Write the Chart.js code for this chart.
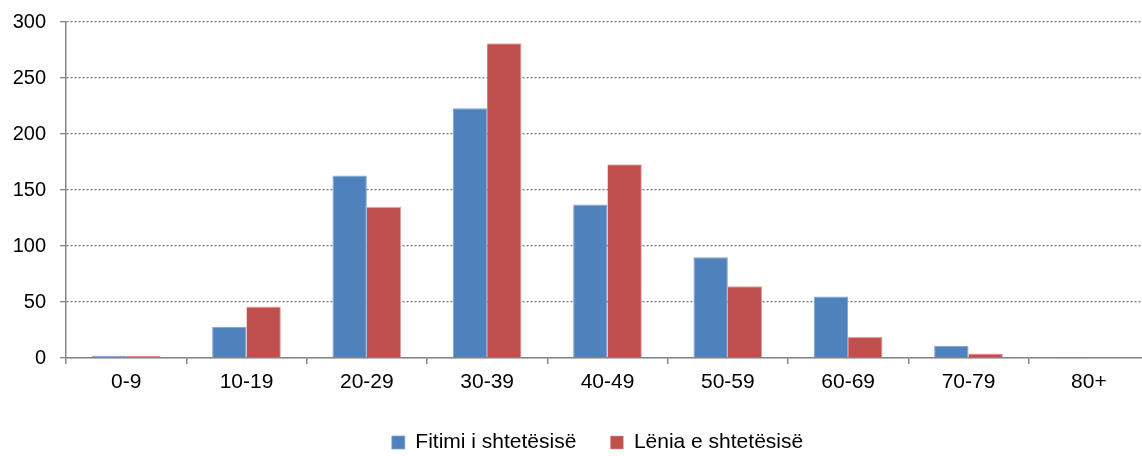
<!DOCTYPE html>
<html>
<head>
<meta charset="utf-8">
<script src="https://cdn.jsdelivr.net/npm/chart.js@4"></script>
<style>
html,body{margin:0;padding:0;overflow:hidden;background:#fff;width:1142px;height:456px;}
#wrap{position:absolute;left:0;top:0;width:1150px;height:463px;}
</style>
</head>
<body>
<div id="wrap"><canvas id="c"></canvas></div>
<script>
const categories = ["0-9","10-19","20-29","30-39","40-49","50-59","60-69","70-79","80+"];
const seriesNames = ["Fitimi i shtetësisë","Lënia e shtetësisë"];
const fitimi = [2, 28, 163, 223, 137, 90, 55, 11, 1];
const lenia = [2, 46, 135, 281, 173, 64, 19, 4, 0];
const yTicks = [0, 50, 100, 150, 200, 250, 300];

const FONT = "'Liberation Sans', Arial, sans-serif";
const legendShift = {
  id: 'legendShift',
  afterLayout(chart) {
    if (chart.legend) { chart.legend.left -= 10; chart.legend.right -= 10; }
  }
};

new Chart(document.getElementById('c'), {
  type: 'bar',
  data: {
    labels: categories,
    datasets: [
      { label: seriesNames[0], data: fitimi, backgroundColor: '#4F81BD', borderColor: '#7FA3D3', borderWidth: {left:1, right:1, top:1, bottom:0}, borderSkipped: false },
      { label: seriesNames[1], data: lenia, backgroundColor: '#C0504D', borderColor: '#E3A6A4', borderWidth: {left:0, right:1, top:1, bottom:0}, borderSkipped: false }
    ]
  },
  options: {
    responsive: true,
    maintainAspectRatio: false,
    animation: false,
    devicePixelRatio: 1,
    layout: { padding: { top: 0, left: 0, right: 1, bottom: 0 } },
    datasets: { bar: { categoryPercentage: 0.571, barPercentage: 1.0 } },
    plugins: {
      tooltip: { enabled: false },
      legend: {
        position: 'bottom',
        fullSize: false,
        labels: {
          font: { family: FONT, size: 21 },
          color: '#000',
          boxWidth: 13,
          boxHeight: 13,
          padding: 34
        }
      }
    },
    scales: {
      x: {
        grid: { display: true, drawOnChartArea: false, drawTicks: true, tickLength: 6, color: '#868686', tickColor: '#868686', offset: true, lineWidth: 1.5 },
        border: { display: true, color: '#868686', width: 1.5 },
        ticks: { font: { family: FONT, size: 21 }, color: '#000', padding: 6, maxRotation: 0 },
        afterFit(scale) { scale.height = 40; }
      },
      y: {
        min: 0, max: 300,
        afterBuildTicks(scale) { scale.ticks = yTicks.map(v => ({ value: v })); },
        grid: { color: '#7a7a7a', lineWidth: 1.3, tickLength: 6, tickColor: '#868686', tickBorderDash: [], drawTicks: true },
        border: { display: true, color: '#868686', width: 1.5, dash: [2, 2] },
        ticks: { font: { family: FONT, size: 20, lineHeight: 0.8 }, color: '#000', padding: 14 },
        afterFit(scale) { scale.width = 66; }
      }
    }
  },
  plugins: [legendShift]
});
</script>
</body>
</html>
